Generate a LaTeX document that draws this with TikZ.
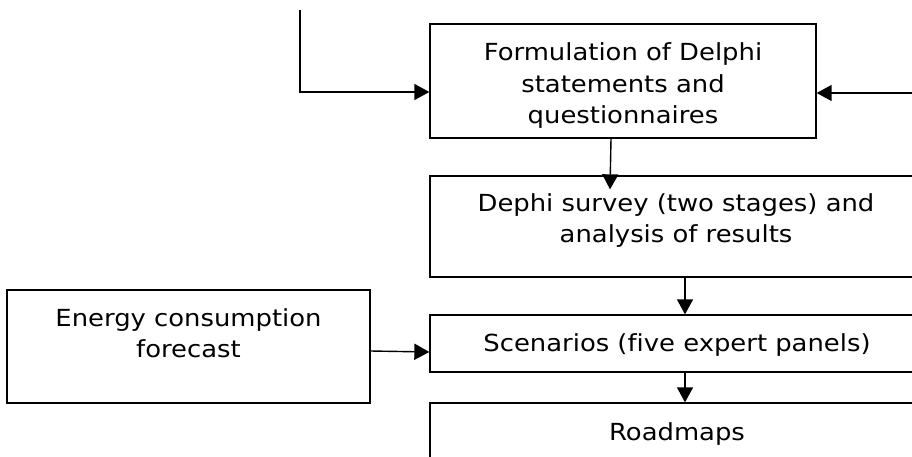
\documentclass[tikz,border=0pt]{standalone}
\usepackage{fontspec}
\setmainfont{DejaVu Sans}[FakeStretch=1.1, Ligatures=NoCommon]
\usetikzlibrary{arrows.meta}

\tikzset{
  box/.style={draw, line width=1.3pt, align=center, inner sep=0pt,
              font=\fontsize{23.5}{31.5}\selectfont},
  arr/.style={line width=1.4pt, -{Triangle[length=15pt,width=16pt]}}
}

\begin{document}
\begin{tikzpicture}[x=1pt,y=-1pt]
  \clip (0,0)
     rectangle (912,457);
  \node[box, minimum width=386pt, minimum height=114pt] (form)
    at (623,81) {\raisebox{-5pt}[\height][\depth]{\begin{tabular}{@{}c@{}}Formulation of Delphi\\statements and\\questionnaires\end{tabular}}};
  \node[box, minimum width=492pt, minimum height=101pt] (survey)
    at (676,226.5) {\raisebox{6pt}[\height][\depth]{\begin{tabular}{@{}c@{}}Dephi survey (two stages) and\\analysis of results\end{tabular}}};
  \node[box, minimum width=363pt, minimum height=113pt] (energy)
    at (188.5,346.5) {\raisebox{11pt}[\height][\depth]{\begin{tabular}{@{}c@{}}Energy consumption\\forecast\end{tabular}}};
  \node[box, minimum width=494pt, minimum height=57pt] (scen)
    at (677,343.5) {\raisebox{-2pt}[\height][\depth]{Scenarios (five expert panels)}};
  \node[box, minimum width=494pt, minimum height=58pt] (road)
    at (677,432) {\raisebox{-2pt}[\height][\depth]{Roadmaps}};
  % open inputs
  \coordinate (inL) at (300,10);
  \coordinate (inR) at (912,93);
  \draw[arr] (inL) |- ([yshift=-11pt]form.west);
  \draw[arr] (inR) -- (inR -| form.east);
  % flow
  \draw[arr] ([xshift=-12pt]form.south)
          -- ([xshift=-66pt,yshift=-14pt]survey.north);
  \draw[arr] ([xshift=9pt]survey.south) -- ([xshift=8pt]scen.north);
  \draw[arr] ([yshift=-4.5pt]energy.east) -- ([yshift=-8.5pt]scen.west);
  \draw[arr] ([xshift=8pt]scen.south) -- ([xshift=8pt]road.north);
\end{tikzpicture}
\end{document}
